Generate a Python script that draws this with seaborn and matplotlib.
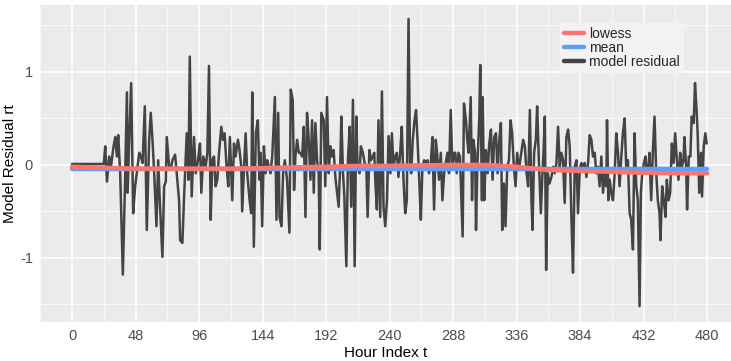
import numpy as np
import pandas as pd
import seaborn as sns
import matplotlib.pyplot as plt
from matplotlib.ticker import MultipleLocator

# Residual series (hour, value)
hours = [0, 12, 24, 25.1, 26.4, 28.1, 29.4, 31.4, 32.7, 33.9, 34.9, 36.4, 38.4, 40.0, 41.5,
         42.0, 43.2, 44.7, 46.2, 47.7, 49.5, 50.8, 52.0, 53.3, 55.0, 56.5, 58.3, 59.5, 60.8,
         62.1, 63.8, 65.1, 66.3, 68.3, 69.6, 70.9, 71.6, 73.4, 74.6, 75.9, 77.9, 78.9, 80.9,
         81.7, 83.4, 84.7, 86.7, 88.0, 89.0, 90.4, 92.2,
         93.5, 95.2, 96.7, 97.7, 99.2, 101.0, 102.3, 103.5, 104.8, 106.0, 107.3, 108.5, 109.8,
         111.1, 112.8, 114.1, 115.3, 116.8, 118.1, 119.3, 121.1, 122.4, 123.6, 125.4, 126.6,
         127.9, 128.6, 129.9, 131.2, 132.4, 134.2, 135.4, 136.2, 137.4, 138.9, 140.4, 141.7,
         142.5, 143.7, 145.0, 146.2, 147.5, 148.7, 150.0, 151.3, 153.3, 154.5, 155.8, 156.8,
         158.3, 159.5, 160.8, 162.5, 164.3, 165.3, 166.8, 167.8, 168.8, 170.1, 171.4, 172.6,
         173.9, 175.1, 176.4, 177.6, 178.9, 180.2, 181.4, 182.7, 183.9, 185.2, 186.4, 187.2,
         188.4, 190.2,
         191.4, 192.7, 194.0, 195.2, 196.5, 197.7, 199.0, 200.3, 201.5, 202.8, 203.5, 204.8,
         205.8, 207.3, 208.5, 209.8, 211.0, 212.3, 213.6, 214.8, 215.8, 217.3, 218.3, 219.8,
         221.1, 222.4, 223.4, 224.7, 225.9, 227.2, 228.4, 229.4, 230.4, 231.6, 232.9, 234.2,
         235.4, 236.7, 238.0, 239.2,
         240.6, 241.7, 243.0, 244.2, 245.5, 246.7, 248.0, 249.2, 250.5, 251.8, 253.0, 254.3,
         255.5, 256.3, 257.5, 258.8, 260.0, 261.3, 262.6, 263.6, 264.8, 266.1, 267.3, 268.6,
         269.8, 271.1, 272.4, 273.6, 274.9, 276.1, 277.4, 278.7, 279.9, 281.2, 282.4, 283.7,
         284.9, 286.2, 287.4, 288.7,
         289.6, 290.7, 292.0, 293.2, 295.2, 296.2, 297.7, 298.7, 299.7, 301.3, 302.3, 303.3,
         304.6, 305.3, 306.3, 307.8, 308.5, 309.8, 310.3, 311.5, 312.8, 314.1, 315.3, 316.6,
         317.8, 319.1, 320.4, 321.6, 322.9, 324.1, 325.1, 326.4, 327.6, 328.9, 330.2, 331.4,
         332.6, 333.9, 335.2, 336.4, 337.7,
         340.9, 342.2, 343.5, 344.7, 346.0, 347.2, 348.0, 349.2, 350.5, 351.5, 352.8, 354.3,
         355.3, 356.3, 357.3, 358.3, 359.5, 360.8, 362.3, 363.6, 364.8, 366.1, 367.3, 368.6,
         369.8, 371.1, 372.3, 373.6, 374.9, 376.1, 377.4, 378.6, 379.9, 381.2, 382.4, 383.7,
         384.9, 386.2,
         387.4, 388.7, 390.0, 391.2, 392.5, 393.7, 395.0, 396.2, 397.5, 398.7, 400.0, 401.3,
         402.5, 403.8, 404.3, 405.3, 406.3, 407.5, 408.8, 410.1, 411.3, 412.6, 413.8, 415.1,
         416.3, 417.6, 418.8, 420.1, 421.4, 422.6, 423.9, 425.1, 426.4, 427.6, 428.9, 429.9,
         430.9, 432.2, 433.4, 434.4, 435.7,
         436.4, 437.7, 439.0, 440.2, 441.5, 442.7, 444.0, 444.7, 446.0, 447.2, 448.5, 449.5,
         450.8, 452.0, 453.3, 454.6, 455.8, 457.1, 458.3, 459.6, 460.8, 462.1, 462.8, 464.1,
         464.8, 466.1, 467.3, 468.3, 469.8, 470.8, 472.0, 472.8, 474.0, 475.3, 476.1, 477.4,
         478.6, 479.6]

residual = [0.01, 0.01, 0.01, 0.20, -0.18, 0.09, -0.02, 0.20, 0.30, 0.09, 0.32, -0.09, -1.18, -0.23, 0.78,
            -0.30, 0.27, 0.88, -0.52, -0.23, -0.02, 0.13, 0.09, 0.02, 0.63, -0.70, 0.27, 0.56, 0.27,
            -0.09, -0.66, 0.05, -0.38, -0.99, -0.23, -0.18, 0.30, -0.02, -0.05, 0.05, 0.11, -0.05, -0.38,
            -0.81, -0.84, -0.34, 0.34, -0.16, 1.165, -0.34, 0.30,
            -0.09, 0.05, 0.23, -0.30, 0.09, -0.02, 0.13, 1.065, -0.59, 0.05, 0.09, -0.23, -0.16,
            0.13, 0.41, 0.27, 0.34, -0.02, -0.23, 0.30, -0.38, 0.23, 0.09, 0.27, 0.16,
            -0.02, -0.50, -0.05, 0.34, -0.09, -0.38, -0.52, 0.78, -0.88, 0.34, 0.48, -0.16,
            0.13, -0.66, 0.20, -0.09, 0.05, -0.02, -0.09, 0.09, 0.73, -0.59, 0.56, -0.56,
            -0.66, -0.09, 0.05, -0.16, -0.73, 0.81, 0.70, -0.27, 0.09, 0.27, 0.13, 0.13,
            0.09, 0.41, -0.56, 0.56, 0.27, -0.16, 0.48, -0.30, 0.45, 0.05, -0.09, -0.91,
            0.56, 0.48,
            -0.23, 0.73, -0.09, 0.20, 0.09, 0.16, -0.13, -0.30, -0.45, 0.05, 0.52, -0.09,
            -0.34, -1.09, 0.05, 0.41, -0.45, 0.70, -1.09, 0.52, -0.02, -0.09, 0.20, 0.13,
            0.02, -0.02, -0.56, 0.16, 0.05, 0.09, 0.13, -0.23, -0.48, 0.48, -0.56, 0.79,
            -0.45, -0.66, -0.38, 0.31,
            -0.09, 0.34, -0.02, 0.09, 0.13, -0.13, 0.13, 0.41, -0.16, -0.52, -0.38, 1.57,
            -0.02, -0.09, 0.27, 0.48, 0.59, 0.20, -0.23, -0.59, -0.02, 0.05, 0.02, 0.05,
            -0.09, 0.02, 0.30, -0.48, 0.27, 0.09, -0.16, 0.13, -0.38, -0.09, 0.02, 0.13,
            -0.09, 0.59, -0.02, 0.13,
            0.13, -0.09, 0.13, 0.09, -0.77, 0.66, 0.48, 0.27, 0.13, 0.73, -0.38, 0.27,
            0.13, -0.70, -0.02, 0.52, 1.075, -0.38, 0.73, -0.38, 0.16, -0.09, 0.23, 0.38,
            -0.16, 0.30, 0.34, -0.09, 0.27, 0.45, -0.70, -0.20, -0.66, -0.02, 0.05, 0.48,
            0.34, -0.02, -0.23, 0.13, -0.05,
            0.27, 0.20, -0.09, -0.23, 0.59, -0.38, -0.70, 0.13, 0.27, 0.63, 0.05, -0.52,
            -0.16, 0.13, 0.52, -1.13, -0.09, -0.20, -0.13, -0.02, -0.09, 0.02, 0.41, -0.02,
            0.13, 0.05, -0.41, 0.30, 0.38, 0.20, -0.56, -1.16, -0.02, 0.05, -0.52, -0.05,
            0.02, -0.02,
            0.02, -0.13, 0.02, 0.32, 0.27, 0.09, 0.13, -0.09, -0.02, -0.23, 0.09, -0.30,
            -0.09, -0.23, 0.48, -0.38, -0.16, -0.30, -0.38, -0.09, 0.34, 0.13, -0.23, 0.09,
            0.34, 0.50, -0.02, 0.05, -0.52, -0.59, -0.91, 0.34, -0.23, -0.38, -1.52, -0.30,
            -0.09, 0.02, 0.09, -0.09, -0.02,
            0.13, -0.38, 0.16, 0.52, -0.09, -0.38, -0.52, -0.81, -0.23, -0.38, -0.56, -0.16,
            -0.38, -0.30, 0.23, 0.02, 0.34, 0.05, -0.16, 0.13, -0.02, 0.05, 0.30, -0.02,
            -0.48, 0.09, 0.09, 0.52, 0.45, 0.88, 0.59, 0.34, -0.30, 0.13, -0.34, 0.20,
            0.34, 0.23]

# Lowess curve
lowess_hours = [0, 48, 96, 120, 144, 168, 192, 216, 240, 264, 288, 312, 336, 360, 384, 408, 432, 456, 480]
lowess_vals = [-0.02, -0.04, -0.04, -0.04, -0.035, -0.025, -0.02, -0.01, -0.01, -0.005, 0.0, 0.0,
               -0.02, -0.055, -0.065, -0.075, -0.085, -0.09, -0.09]

mean_hours = [0, 480]
mean_vals = [-0.045, -0.045]

sns.set_theme(style="darkgrid", rc={"axes.facecolor": "#EBEBEB", "grid.color": "white"})
plt.rcParams["font.family"] = ["Liberation Sans", "DejaVu Sans"]
plt.rcParams["axes.unicode_minus"] = False

fig = plt.figure(figsize=(7.31, 3.61), dpi=100)
ax = fig.add_axes([40 / 731, 1 - 322 / 361, 1 - 40 / 731, 317 / 361])

df_res = pd.DataFrame({"t": hours, "r": residual})
df_low = pd.DataFrame({"t": lowess_hours, "r": lowess_vals})
df_mean = pd.DataFrame({"t": mean_hours, "r": mean_vals})

sns.lineplot(data=df_res, x="t", y="r", color="#444444", linewidth=1.8, ax=ax,
             label="model residual", estimator=None, sort=False)
sns.lineplot(data=df_mean, x="t", y="r", color="#619CFF", linewidth=3.2, ax=ax,
             label="mean", estimator=None)
sns.lineplot(data=df_low, x="t", y="r", color="#F8766D", linewidth=3.2, ax=ax,
             label="lowess", estimator=None)

ax.set_xlim(-24.2, 498)
ax.set_ylim(-1.69, 1.72)
ax.set_xticks(np.arange(0, 481, 48))
ax.set_yticks([-1, 0, 1])
ax.xaxis.set_minor_locator(MultipleLocator(24))
ax.yaxis.set_minor_locator(MultipleLocator(0.5))
ax.grid(which="major", color="white", linewidth=1.1)
ax.grid(which="minor", color="white", linewidth=0.5)
for s in ax.spines.values():
    s.set_visible(False)
ax.tick_params(axis="both", which="major", labelsize=10.5, labelcolor="#4D4D4D",
               length=3, color="#333333", pad=2)
ax.tick_params(which="minor", length=0)
ax.set_xlabel("Hour Index t", fontsize=11, color="black", labelpad=2)
ax.set_ylabel("Model Residual rt", fontsize=11, color="black", labelpad=2)

handles, labels = ax.get_legend_handles_labels()
order = [labels.index(l) for l in ["lowess", "mean", "model residual"]]
leg = ax.legend([handles[i] for i in order], [labels[i] for i in order],
                loc="upper left", bbox_to_anchor=(553 / 731, 1 - 16 / 361),
                bbox_transform=fig.transFigure, fontsize=10, frameon=True,
                facecolor="#F2F2F2", edgecolor="none", framealpha=1, fancybox=False,
                handlelength=1.4, handletextpad=0.4, labelspacing=0.0, borderpad=0.3)
for line in leg.get_lines():
    line.set_linewidth(3.2)

fig.savefig("out.png", dpi=100)
